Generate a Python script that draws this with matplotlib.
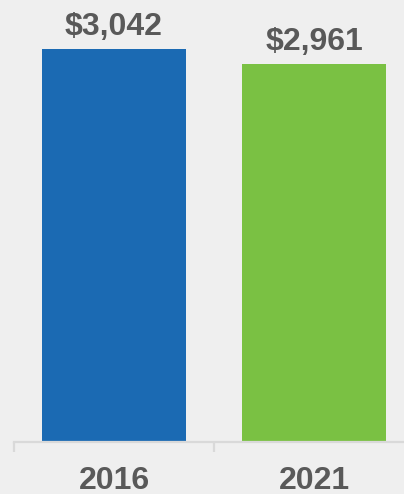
import matplotlib
matplotlib.use("Agg")
import matplotlib.pyplot as plt

categories = ["2016", "2021"]
values = [3042, 2961]
labels = ["$3,042", "$2,961"]
colors = ["#1B6AB3", "#7AC143"]

plt.rcParams['font.family'] = ['Liberation Sans', 'DejaVu Sans']

W, H = 404, 494
fig = plt.figure(figsize=(W / 100, H / 100), dpi=100, facecolor="#EFEFEF")
ax = fig.add_axes([14 / W, (H - 442) / H, 400 / W, 442 / H])
ax.set_facecolor("#EFEFEF")

x = list(range(len(categories)))
ax.bar(x, values, width=0.72, color=colors, zorder=2)
ax.set_xlim(-0.5, 1.5)
ax.set_ylim(920, 3307)

for xi, v, lab in zip(x, values, labels):
    ax.annotate(lab, (xi, v), xytext=(0, 10.3), textcoords="offset points",
                ha="center", va="baseline", fontsize=23, fontweight="bold",
                color="#595959")

for s in ["top", "right", "left"]:
    ax.spines[s].set_visible(False)
ax.spines["bottom"].set_color("#D9D9D9")
ax.spines["bottom"].set_linewidth(1.6)
ax.set_yticks([])
ax.set_xticks(x)
ax.set_xticklabels(categories, fontsize=23, fontweight="bold", color="#595959")
ax.tick_params(axis="x", which="major", length=0, pad=17)
ax.set_xticks([-0.5, 0.5, 1.5], minor=True)
ax.tick_params(axis="x", which="minor", length=7.5, width=1.6, color="#D9D9D9")

fig.savefig("out.png", dpi=100, facecolor=fig.get_facecolor())
